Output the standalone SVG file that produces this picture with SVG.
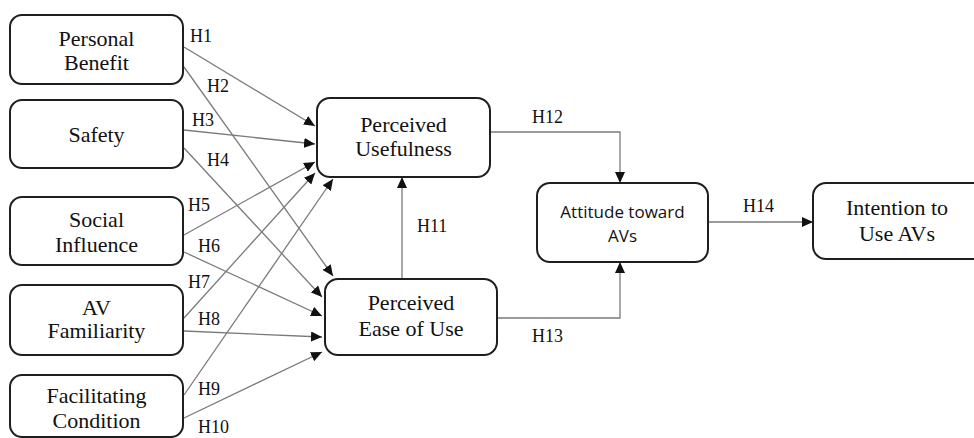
<svg xmlns="http://www.w3.org/2000/svg" width="974" height="438" viewBox="0 0 974 438">
  <style>
    .box { fill: #fff; stroke: #1e1e1e; stroke-width: 2; }
    .serif { font-family: 'Liberation Serif', 'Noto Serif', 'DejaVu Serif', 'Times New Roman', Times, serif; font-size: 22px; fill: #111; text-anchor: middle; }
    .sans { font-family: 'Open Sans', 'Noto Sans', sans-serif; font-size: 17px; fill: #111; text-anchor: middle; }
    .lbl { font-family: 'Liberation Serif', 'Noto Serif', 'DejaVu Serif', 'Times New Roman', Times, serif; font-size: 18px; fill: #111; }
    .edge { fill: none; stroke: #7a7a7a; stroke-width: 1.3; marker-end: url(#arrow); }
  </style>
  <defs>
    <marker id="arrow" markerUnits="userSpaceOnUse" markerWidth="12" markerHeight="10" refX="11" refY="5" orient="auto">
      <path d="M0,0 L11,5 L0,10 Z" fill="#111"/>
    </marker>
  </defs>

  <rect width="974" height="438" fill="#fff"/>

  <!-- connectors -->
  <g id="connectors">
    <line class="edge" x1="184" y1="47" x2="315" y2="126"/>
    <line class="edge" x1="184" y1="67" x2="333" y2="276"/>
    <line class="edge" x1="184" y1="130" x2="315" y2="144"/>
    <line class="edge" x1="184" y1="148" x2="322" y2="297"/>
    <line class="edge" x1="184" y1="235" x2="315" y2="162"/>
    <line class="edge" x1="184" y1="252" x2="322" y2="316"/>
    <line class="edge" x1="184" y1="318" x2="315" y2="173"/>
    <line class="edge" x1="184" y1="331" x2="322" y2="337"/>
    <line class="edge" x1="184" y1="395" x2="333" y2="179"/>
    <line class="edge" x1="184" y1="418" x2="322" y2="352"/>
    <line class="edge" x1="402" y1="279" x2="402" y2="177"/>
    <polyline class="edge" points="490,132 620,132 620,183"/>
    <polyline class="edge" points="497,318 620,318 620,262"/>
    <line class="edge" x1="708" y1="222" x2="813" y2="222"/>

    <text class="lbl" x="190" y="42">H1</text>
    <text class="lbl" x="207" y="92">H2</text>
    <text class="lbl" x="192" y="126">H3</text>
    <text class="lbl" x="207" y="166">H4</text>
    <text class="lbl" x="188" y="211">H5</text>
    <text class="lbl" x="198" y="252">H6</text>
    <text class="lbl" x="188" y="288">H7</text>
    <text class="lbl" x="198" y="325">H8</text>
    <text class="lbl" x="198" y="395">H9</text>
    <text class="lbl" x="198" y="433">H10</text>
    <text class="lbl" x="417" y="232">H11</text>
    <text class="lbl" x="532" y="123">H12</text>
    <text class="lbl" x="532" y="342">H13</text>
    <text class="lbl" x="743" y="212">H14</text>
  </g>

  <!-- antecedent constructs -->
  <g id="personal-benefit">
    <rect class="box" x="10" y="15" width="173" height="69" rx="12"/>
    <text class="serif" x="96.5" y="46">Personal</text>
    <text class="serif" x="96.5" y="70">Benefit</text>
  </g>
  <g id="safety">
    <rect class="box" x="10" y="100" width="173" height="68" rx="12"/>
    <text class="serif" x="96.5" y="142">Safety</text>
  </g>
  <g id="social-influence">
    <rect class="box" x="10" y="197" width="173" height="68" rx="12"/>
    <text class="serif" x="96.5" y="227">Social</text>
    <text class="serif" x="96.5" y="252">Influence</text>
  </g>
  <g id="av-familiarity">
    <rect class="box" x="10" y="285" width="173" height="70" rx="12"/>
    <text class="serif" x="96.5" y="315">AV</text>
    <text class="serif" x="96.5" y="338">Familiarity</text>
  </g>
  <g id="facilitating-condition">
    <rect class="box" x="10" y="375" width="173" height="62" rx="12"/>
    <text class="serif" x="96.5" y="403">Facilitating</text>
    <text class="serif" x="96.5" y="428">Condition</text>
  </g>

  <!-- mediating constructs -->
  <g id="perceived-usefulness">
    <rect class="box" x="317" y="98" width="173" height="79" rx="13"/>
    <text class="serif" x="403.5" y="132">Perceived</text>
    <text class="serif" x="403.5" y="156">Usefulness</text>
  </g>
  <g id="perceived-ease-of-use">
    <rect class="box" x="325" y="279" width="172" height="76" rx="13"/>
    <text class="serif" x="411" y="310">Perceived</text>
    <text class="serif" x="411" y="336">Ease of Use</text>
  </g>
  <g id="attitude">
    <rect class="box" x="537" y="183" width="171" height="79" rx="13"/>
    <text class="sans" x="622.5" y="218">Attitude toward</text>
    <text class="sans" x="622.5" y="242">AVs</text>
  </g>

  <!-- outcome -->
  <g id="intention">
    <rect class="box" x="813" y="183" width="175" height="76" rx="13"/>
    <text class="serif" x="897" y="215">Intention to</text>
    <text class="serif" x="897" y="241">Use AVs</text>
  </g>
</svg>
